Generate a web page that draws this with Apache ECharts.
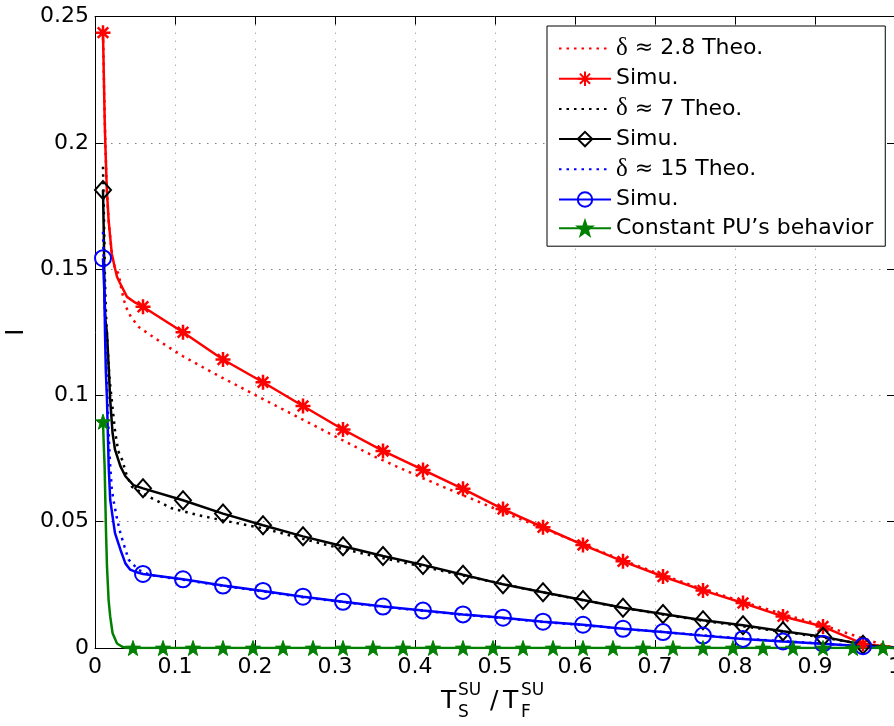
<!DOCTYPE html>
<html><head><meta charset="utf-8">
<script src="https://cdn.jsdelivr.net/npm/echarts@6/dist/echarts.min.js"></script>
<style>html,body{margin:0;padding:0;background:#fff}#c{width:894px;height:726px}</style>
</head><body><div id="c"></div>
<script>
// ---------- data ----------
const seriesNames = ['δ ≈ 2.8 Theo.', 'Simu.', 'δ ≈ 7 Theo.', 'Simu. ', 'δ ≈ 15 Theo.', 'Simu.  ', 'Constant PU’s behavior'];

const redTheoX = [0.01,0.0113,0.0129,0.0146,0.017,0.021,0.0246,0.0297,0.033,0.038,0.045,0.055,0.071,0.09,0.11,0.15,0.2,0.25,0.3,0.35,0.41,0.46,0.51,0.56,0.61,0.66,0.71,0.76,0.81,0.86,0.91,0.96,0.985,1.0];
const redTheoY = [0.2436,0.2222,0.1998,0.1826,0.1694,0.156,0.1508,0.148,0.142,0.1355,0.131,0.127,0.1235,0.1195,0.1155,0.1085,0.1002,0.092,0.0838,0.0757,0.0672,0.0605,0.0538,0.0474,0.041,0.0347,0.0288,0.0233,0.0183,0.0134,0.009,0.0038,0.0012,0.0];

const redSimX = [0.01,0.0113,0.0121,0.0129,0.0146,0.017,0.021,0.0246,0.0275,0.0304,0.04,0.0504,0.06,0.11,0.16,0.21,0.26,0.31,0.36,0.41,0.46,0.51,0.56,0.61,0.66,0.71,0.76,0.81,0.86,0.91,0.96,0.998];
const redSimY = [0.2436,0.2222,0.209,0.1998,0.1826,0.1694,0.156,0.1508,0.147,0.145,0.139,0.1367,0.1351,0.125,0.1142,0.1052,0.0958,0.0865,0.078,0.0705,0.063,0.055,0.0478,0.0408,0.0343,0.0283,0.0228,0.0178,0.0125,0.0085,0.0016,0.0003];
const redSimMark = [1,0,0,0,0,0,0,0,0,0,0,0,1,1,1,1,1,1,1,1,1,1,1,1,1,1,1,1,1,1,1,0];

const blackTheoX = [0.01,0.0115,0.0125,0.014,0.016,0.018,0.021,0.025,0.029,0.034,0.04,0.046,0.063,0.096,0.13,0.16,0.21,0.26,0.31,0.36,0.41,0.46,0.51,0.56,0.61,0.66,0.71,0.76,0.81,0.86,0.91,0.96,1.0];
const blackTheoY = [0.1905,0.165,0.145,0.13,0.118,0.107,0.098,0.086,0.078,0.0744,0.068,0.0639,0.0606,0.0553,0.0525,0.0505,0.0474,0.0432,0.0392,0.0356,0.0322,0.0287,0.0253,0.022,0.0189,0.0159,0.0133,0.0108,0.0086,0.0064,0.0042,0.0015,0.0];

const blackSimX = [0.01,0.0112,0.0118,0.013,0.015,0.0171,0.019,0.022,0.025,0.0317,0.038,0.048,0.06,0.11,0.16,0.21,0.26,0.31,0.36,0.41,0.46,0.51,0.56,0.61,0.66,0.71,0.76,0.81,0.86,0.91,0.96,1.0];
const blackSimY = [0.1813,0.16,0.14,0.13,0.1246,0.1114,0.0982,0.085,0.0785,0.072,0.068,0.0645,0.0632,0.0585,0.0532,0.0486,0.0442,0.0403,0.0364,0.0329,0.029,0.0252,0.0221,0.019,0.0159,0.0135,0.011,0.009,0.0066,0.0045,0.0013,0.0];
const blackSimMark = [1,0,0,0,0,0,0,0,0,0,0,0,1,1,1,1,1,1,1,1,1,1,1,1,1,1,1,1,1,1,1,0];

const blueTheoX = [0.01,0.0115,0.013,0.015,0.017,0.019,0.021,0.023,0.027,0.0317,0.037,0.042,0.054,0.07,0.11,0.16,0.21,0.26,0.31,0.36,0.41,0.46,0.51,0.56,0.61,0.66,0.71,0.76,0.81,0.86,0.91,0.96,1.0];
const blueTheoY = [0.1648,0.145,0.125,0.104,0.085,0.072,0.063,0.0587,0.052,0.0455,0.04,0.035,0.031,0.0288,0.027,0.0246,0.0224,0.0201,0.0182,0.0163,0.0147,0.0132,0.0118,0.0103,0.0091,0.0076,0.0063,0.005,0.0037,0.0027,0.0017,0.0007,0.0];

const blueSimX = [0.01,0.0118,0.0125,0.0135,0.015,0.0171,0.019,0.022,0.025,0.0317,0.038,0.044,0.05,0.06,0.11,0.16,0.21,0.26,0.31,0.36,0.41,0.46,0.51,0.56,0.61,0.66,0.71,0.76,0.81,0.86,0.91,0.96,1.0];
const blueSimY = [0.1543,0.14,0.125,0.11,0.0982,0.072,0.0587,0.052,0.0455,0.039,0.0335,0.031,0.0302,0.0293,0.0272,0.0247,0.0226,0.0203,0.0183,0.0164,0.0148,0.0133,0.012,0.0104,0.0092,0.0076,0.0063,0.0049,0.0036,0.0026,0.0017,0.0007,0.0];
const blueSimMark = [1,0,0,0,0,0,0,0,0,0,0,0,0,1,1,1,1,1,1,1,1,1,1,1,1,1,1,1,1,1,1,1,0];

const greenX = [0.01,0.011,0.012,0.0138,0.015,0.017,0.019,0.022,0.0275,0.034,0.04,0.0475,0.085,0.1225,0.16,0.1975,0.235,0.2725,0.31,0.3475,0.385,0.4225,0.46,0.4975,0.535,0.5725,0.61,0.6475,0.685,0.7225,0.76,0.7975,0.835,0.8725,0.91,0.9475,0.985,1.0];
const greenY = [0.0896,0.08,0.072,0.0455,0.0322,0.019,0.0125,0.0058,0.0018,0.0005,0,0,0,0,0,0,0,0,0,0,0,0,0,0,0,0,0,0,0,0,0,0,0,0,0,0,0,0];
const greenMark = [1,0,0,0,0,0,0,0,0,0,0,1,1,1,1,1,1,1,1,1,1,1,1,1,1,1,1,1,1,1,1,1,1,1,1,1,1,0];

// ---------- build ----------
const FONT = 'DejaVu Sans';
function pts(xs, ys, marks) {
  return xs.map((x, i) => marks && marks[i] ? { value: [x, ys[i]] } : { value: [x, ys[i]], symbol: 'none' });
}
const DOT = [2.5, 5];
const ASTER = 'path://M10,0 L10,20 M0,10 L20,10 M2.93,2.93 L17.07,17.07 M2.93,17.07 L17.07,2.93';
const STAR = 'path://M0,-10 L2.35,-3.24 L9.51,-3.09 L3.8,1.24 L5.88,8.09 L0,4 L-5.88,8.09 L-3.8,1.24 L-9.51,-3.09 L-2.35,-3.24 Z';

function theo(name, color, xs, ys) {
  return { name, type: 'line', symbol: 'rect', symbolSize: 1, showSymbol: false, data: pts(xs, ys, null),
    lineStyle: { color, width: 2.5, type: DOT }, itemStyle: { color: 'rgba(0,0,0,0)', borderColor: 'rgba(0,0,0,0)', borderWidth: 0 }, silent: true };
}
function simu(name, color, xs, ys, marks, symbol, size, filled, bw) {
  return { name, type: 'line', symbol, symbolSize: size, showSymbol: true, data: pts(xs, ys, marks),
    lineStyle: { color, width: 2.5, type: 'solid' },
    itemStyle: filled ? { color, borderColor: color, borderWidth: 1 } : { color: 'rgba(0,0,0,0)', borderColor: color, borderWidth: bw },
    silent: true };
}

const chart = echarts.init(document.getElementById('c'), null, { renderer: 'canvas' });
const axisLineStyle = { color: '#000', width: 1 };
chart.setOption({
  animation: false,
  backgroundColor: '#fff',
  grid: { left: 95, top: 16.5, width: 800, height: 631.5, containLabel: false, outerBoundsMode: 'none' },
  xAxis: [
    { type: 'value', min: 0, max: 1, interval: 0.1, position: 'bottom',
      axisLine: { show: true, onZero: false, lineStyle: axisLineStyle },
      axisTick: { show: true, inside: true, length: 8, lineStyle: axisLineStyle },
      axisLabel: { show: true, margin: 8, fontFamily: FONT, fontSize: 22, color: '#000', hideOverlap: false },
      splitLine: { show: true, lineStyle: { color: '#b0b0b0', width: 1, type: [1.5, 6.5] } } },
    { type: 'value', min: 0, max: 1, interval: 0.1, position: 'top',
      axisLine: { show: true, onZero: false, lineStyle: axisLineStyle },
      axisTick: { show: true, inside: true, length: 8, lineStyle: axisLineStyle },
      axisLabel: { show: false }, splitLine: { show: false } }
  ],
  yAxis: [
    { type: 'value', min: 0, max: 0.25, interval: 0.05, position: 'left',
      name: 'I', nameLocation: 'middle', nameGap: 60,
      nameTextStyle: { fontFamily: FONT, fontSize: 24, color: '#000' },
      axisLine: { show: true, onZero: false, lineStyle: axisLineStyle },
      axisTick: { show: true, inside: true, length: 8, lineStyle: axisLineStyle },
      axisLabel: { show: true, margin: 6, fontFamily: FONT, fontSize: 22, color: '#000' },
      splitLine: { show: true, lineStyle: { color: '#808080', width: 1, type: [1.5, 6.5] } } },
    { type: 'value', min: 0, max: 0.25, interval: 0.05, position: 'right',
      axisLine: { show: true, onZero: false, lineStyle: axisLineStyle },
      axisTick: { show: true, inside: true, length: 8, lineStyle: axisLineStyle },
      axisLabel: { show: false }, splitLine: { show: false } }
  ],
  legend: {
    show: true, orient: 'vertical', left: 547, top: 26,
    padding: [10, 12, 7, 11], itemWidth: 52, itemHeight: 18, itemGap: 6.7,
    borderColor: '#000', borderWidth: 1, backgroundColor: '#fff',
    selectedMode: false,
    data: seriesNames,
    textStyle: { fontFamily: FONT, fontSize: 22, color: '#000', lineHeight: 22,
      rich: { d: { fontFamily: 'Liberation Serif', fontSize: 25, color: '#000', lineHeight: 22 },
              t: { fontFamily: FONT, fontSize: 22, color: '#000', lineHeight: 22 } } },
    formatter: function (n) {
      const s = n.trim();
      if (s.charAt(0) === 'δ') return '{d|δ}{t|' + s.slice(1) + '}';
      return s;
    }
  },
  graphic: [
    { type: 'text', left: 441, top: 689, style: { text: 'T', font: '25px "DejaVu Sans"', fill: '#000' } },
    { type: 'text', left: 458, top: 682, style: { text: 'SU', font: '17px "DejaVu Sans"', fill: '#000' } },
    { type: 'text', left: 458, top: 704, style: { text: 'S', font: '17px "DejaVu Sans"', fill: '#000' } },
    { type: 'text', left: 490, top: 689, style: { text: '/', font: '25px "DejaVu Sans"', fill: '#000' } },
    { type: 'text', left: 503, top: 689, style: { text: 'T', font: '25px "DejaVu Sans"', fill: '#000' } },
    { type: 'text', left: 521, top: 682, style: { text: 'SU', font: '17px "DejaVu Sans"', fill: '#000' } },
    { type: 'text', left: 521, top: 704, style: { text: 'F', font: '17px "DejaVu Sans"', fill: '#000' } }
  ],
  series: [
    theo(seriesNames[0], '#ff0000', redTheoX, redTheoY),
    simu(seriesNames[1], '#ff0000', redSimX, redSimY, redSimMark, ASTER, 15, false, 2.5),
    theo(seriesNames[2], '#000000', blackTheoX, blackTheoY),
    simu(seriesNames[3], '#000000', blackSimX, blackSimY, blackSimMark, 'diamond', [16, 18], false, 2),
    theo(seriesNames[4], '#0000ff', blueTheoX, blueTheoY),
    simu(seriesNames[5], '#0000ff', blueSimX, blueSimY, blueSimMark, 'circle', 16, false, 2),
    simu(seriesNames[6], '#008000', greenX, greenY, greenMark, STAR, 15, true, 1)
  ]
});
</script>
</body></html>
